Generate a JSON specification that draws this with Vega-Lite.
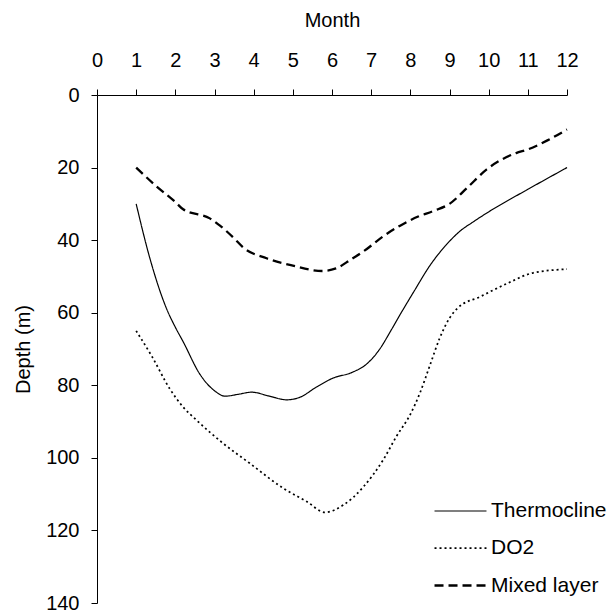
{
  "$schema": "https://vega.github.io/schema/vega-lite/v6.json",
  "width": 470,
  "height": 508,
  "autosize": "none",
  "padding": {"left": 97, "top": 95, "right": 46, "bottom": 10},
  "background": "white",
  "config": {
    "view": {"stroke": null},
    "font": "Liberation Sans",
    "axis": {
      "domainColor": "black",
      "tickColor": "black",
      "labelColor": "black",
      "titleColor": "black",
      "labelFont": "Liberation Sans",
      "titleFont": "Liberation Sans",
      "labelFontSize": 20,
      "titleFontSize": 20,
      "titleFontWeight": "normal",
      "grid": false,
      "tickSize": 6,
      "domainWidth": 1,
      "tickWidth": 1
    }
  },
  "data": {
    "values": [
      {"series": "Thermocline", "month": 1.0, "depth": 30},
      {"series": "Thermocline", "month": 1.35, "depth": 45},
      {"series": "Thermocline", "month": 1.78, "depth": 59},
      {"series": "Thermocline", "month": 2.0, "depth": 64},
      {"series": "Thermocline", "month": 2.2, "depth": 68},
      {"series": "Thermocline", "month": 2.63, "depth": 77},
      {"series": "Thermocline", "month": 3.0, "depth": 81.5},
      {"series": "Thermocline", "month": 3.27, "depth": 83},
      {"series": "Thermocline", "month": 3.6, "depth": 82.5},
      {"series": "Thermocline", "month": 3.95, "depth": 81.9},
      {"series": "Thermocline", "month": 4.4, "depth": 83},
      {"series": "Thermocline", "month": 4.84, "depth": 84},
      {"series": "Thermocline", "month": 5.18, "depth": 83.3},
      {"series": "Thermocline", "month": 5.6, "depth": 80.5},
      {"series": "Thermocline", "month": 6.03, "depth": 78},
      {"series": "Thermocline", "month": 6.5, "depth": 76.5},
      {"series": "Thermocline", "month": 6.9, "depth": 74},
      {"series": "Thermocline", "month": 7.22, "depth": 70},
      {"series": "Thermocline", "month": 7.5, "depth": 65},
      {"series": "Thermocline", "month": 7.74, "depth": 60.5},
      {"series": "Thermocline", "month": 8.1, "depth": 54},
      {"series": "Thermocline", "month": 8.5, "depth": 47},
      {"series": "Thermocline", "month": 8.9, "depth": 41.5},
      {"series": "Thermocline", "month": 9.27, "depth": 37.5},
      {"series": "Thermocline", "month": 9.6, "depth": 35},
      {"series": "Thermocline", "month": 10.03, "depth": 32},
      {"series": "Thermocline", "month": 11.0, "depth": 26},
      {"series": "Thermocline", "month": 12.0, "depth": 20},
      {"series": "DO2", "month": 1.0, "depth": 65},
      {"series": "DO2", "month": 1.4, "depth": 72},
      {"series": "DO2", "month": 1.86, "depth": 81},
      {"series": "DO2", "month": 2.2, "depth": 86},
      {"series": "DO2", "month": 2.54, "depth": 89.6},
      {"series": "DO2", "month": 3.22, "depth": 96},
      {"series": "DO2", "month": 3.9, "depth": 101.5},
      {"series": "DO2", "month": 4.76, "depth": 108.4},
      {"series": "DO2", "month": 5.35, "depth": 112},
      {"series": "DO2", "month": 5.82, "depth": 115},
      {"series": "DO2", "month": 6.29, "depth": 113},
      {"series": "DO2", "month": 6.8, "depth": 108},
      {"series": "DO2", "month": 7.31, "depth": 100.5},
      {"series": "DO2", "month": 7.65, "depth": 94},
      {"series": "DO2", "month": 8.0, "depth": 88},
      {"series": "DO2", "month": 8.25, "depth": 82},
      {"series": "DO2", "month": 8.5, "depth": 74.5},
      {"series": "DO2", "month": 8.75, "depth": 67},
      {"series": "DO2", "month": 9.0, "depth": 61.5},
      {"series": "DO2", "month": 9.2, "depth": 58.8},
      {"series": "DO2", "month": 9.78, "depth": 55.6},
      {"series": "DO2", "month": 10.46, "depth": 52},
      {"series": "DO2", "month": 11.14, "depth": 49},
      {"series": "DO2", "month": 12.0, "depth": 48},
      {"series": "Mixed layer", "month": 1.0, "depth": 20},
      {"series": "Mixed layer", "month": 1.5, "depth": 25},
      {"series": "Mixed layer", "month": 2.0, "depth": 29.5},
      {"series": "Mixed layer", "month": 2.2, "depth": 31.5},
      {"series": "Mixed layer", "month": 2.88, "depth": 34},
      {"series": "Mixed layer", "month": 3.14, "depth": 36},
      {"series": "Mixed layer", "month": 3.5, "depth": 39.5},
      {"series": "Mixed layer", "month": 3.73, "depth": 42},
      {"series": "Mixed layer", "month": 4.33, "depth": 45},
      {"series": "Mixed layer", "month": 5.0, "depth": 47},
      {"series": "Mixed layer", "month": 5.75, "depth": 48.5},
      {"series": "Mixed layer", "month": 6.1, "depth": 47.8},
      {"series": "Mixed layer", "month": 6.46, "depth": 45.5},
      {"series": "Mixed layer", "month": 6.88, "depth": 42.5},
      {"series": "Mixed layer", "month": 7.3, "depth": 39},
      {"series": "Mixed layer", "month": 7.74, "depth": 36},
      {"series": "Mixed layer", "month": 8.2, "depth": 33.5},
      {"series": "Mixed layer", "month": 8.58, "depth": 32},
      {"series": "Mixed layer", "month": 9.0, "depth": 30},
      {"series": "Mixed layer", "month": 9.44, "depth": 25.7},
      {"series": "Mixed layer", "month": 9.95, "depth": 20.5},
      {"series": "Mixed layer", "month": 10.7, "depth": 16},
      {"series": "Mixed layer", "month": 11.0, "depth": 15},
      {"series": "Mixed layer", "month": 11.5, "depth": 12.5},
      {"series": "Mixed layer", "month": 12.0, "depth": 9.5}
    ]
  },
  "mark": {"type": "line", "interpolate": "monotone", "color": "black"},
  "encoding": {
    "x": {
      "field": "month",
      "type": "quantitative",
      "scale": {"domain": [0, 12], "nice": false, "zero": false},
      "axis": {"orient": "top", "title": "Month", "values": [0,1,2,3,4,5,6,7,8,9,10,11,12], "labelPadding": 19, "titlePadding": 20, "labelFlush": false}
    },
    "y": {
      "field": "depth",
      "type": "quantitative",
      "scale": {"domain": [0, 140], "reverse": true, "nice": false},
      "axis": {"title": "Depth (m)", "values": [0,20,40,60,80,100,120,140], "labelPadding": 12, "titlePadding": 12, "labelFlush": false}
    },
    "detail": {"field": "series"},
    "strokeDash": {
      "field": "series",
      "type": "nominal",
      "scale": {"domain": ["Thermocline", "DO2", "Mixed layer"], "range": [[1, 0], [2, 3], [9, 5]]},
      "legend": {
        "title": null,
        "orient": "none",
        "legendX": 336,
        "legendY": 389,
        "symbolType": "stroke",
        "symbolSize": 2700,
        "symbolStrokeColor": "black",
        "symbolStrokeWidth": 1.6,
        "labelFontSize": 21,
        "labelFont": "Liberation Sans",
        "labelColor": "black",
        "labelOffset": 3,
        "rowPadding": -17
      }
    },
    "strokeWidth": {
      "field": "series",
      "type": "nominal",
      "scale": {"domain": ["Thermocline", "DO2", "Mixed layer"], "range": [1.2, 2.3, 2]},
      "legend": null
    }
  }
}
